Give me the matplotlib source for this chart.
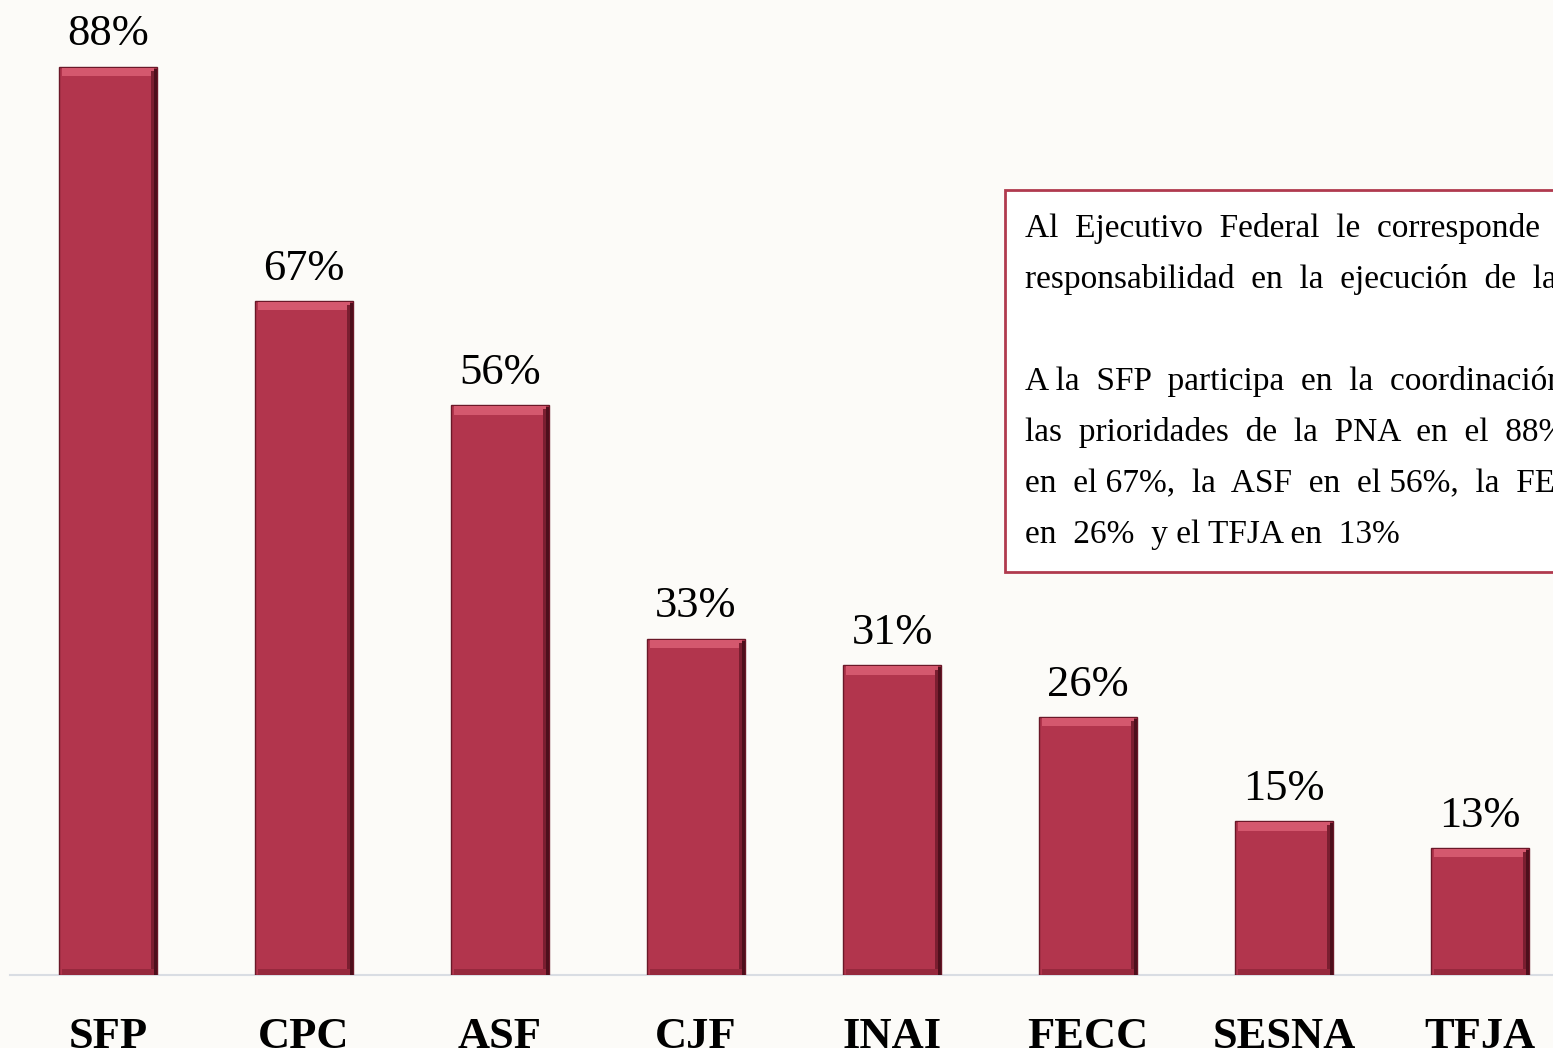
import numpy as np
import matplotlib
matplotlib.use("Agg")
import matplotlib.pyplot as plt
from matplotlib.patches import Rectangle

# datos (alturas, etiquetas como aparecen)
instituciones = ["SFP", "CPC", "ASF", "CJF", "INAI", "FECC", "SESNA", "TFJA"]
porcentajes = [88, 65.3, 55.2, 32.6, 30.0, 25.0, 14.9, 12.3]
etiquetas = ["88%", "67%", "56%", "33%", "31%", "26%", "15%", "13%"]

texto_caja = [
    "Al  Ejecutivo  Federal  le  corresponde  la  mayor",
    "responsabilidad  en  la  ejecución  de  la  PNA.",
    "",
    "A la  SFP  participa  en  la  coordinación  de",
    "las  prioridades  de  la  PNA  en  el  88%,  el  CPC",
    "en  el 67%,  la  ASF  en  el 56%,  la  FECC",
    "en  26%  y el TFJA en  13%",
]

rojo = "#b2354d"
fondo = "#fcfbf8"

plt.rcParams["font.family"] = ["Liberation Serif", "DejaVu Serif"]

W, H = 1553, 1048
fig = plt.figure(figsize=(W / 100, H / 100), dpi=100, facecolor=fondo)

# ejes: linea base en y=975 px, 10.32 px por unidad, primera barra en x=108 px
base = 1 - 975 / H
alto = 100 * 10.32 / H
ax = fig.add_axes([10 / W, base, 1 - 10 / W, alto])
ax.set_facecolor("none")
x = np.arange(len(instituciones))
ax.set_xlim(-0.5, -0.5 + (W - 10) / 196)
ax.set_ylim(0, 100)

vals = np.array(porcentajes)
ax.bar(x, vals, width=0.5, color=rojo, edgecolor="#6a1828", linewidth=1.0, zorder=3)
# efecto bisel: brillo arriba, sombra a la derecha y abajo
ax.bar(x, [0.8] * len(x), bottom=vals - 0.9, width=0.47,
       color="#d4586e", linewidth=0, zorder=4)
ax.bar(x + 0.228, vals - 0.4, width=0.02, color="#7a1e30", linewidth=0, zorder=4)
ax.bar(x + 0.24, vals - 0.2, width=0.015, color="#4e0f1c", linewidth=0, zorder=4)
ax.bar(x, [0.6] * len(x), width=0.47, color="#96283d", linewidth=0, zorder=4)

for xi, v, lab in zip(x, vals, etiquetas):
    ax.text(xi, v + 1.2, lab, ha="center", va="bottom", fontsize=32, color="black")

for s in ["top", "right", "left"]:
    ax.spines[s].set_visible(False)
ax.spines["bottom"].set_color("#d9dde3")
ax.spines["bottom"].set_linewidth(1.5)
ax.set_yticks([])
ax.set_xticks(x)
ax.set_xticklabels(instituciones, fontsize=32, fontweight="bold")
ax.tick_params(axis="x", length=0, pad=30)

# cuadro de texto a la derecha
caja = Rectangle((1005 / W, 1 - 572 / H), 600 / W, (572 - 190) / H,
                 transform=fig.transFigure, facecolor="white",
                 edgecolor="#b03a4e", linewidth=2, zorder=5)
fig.patches.append(caja)
y0 = 228
for i, linea in enumerate(texto_caja):
    fig.text(1025 / W, 1 - (y0 + i * 51.2) / H, linea, fontsize=24,
             ha="left", va="center", color="black", zorder=6)

fig.savefig("out.png", dpi=100, facecolor=fondo)
